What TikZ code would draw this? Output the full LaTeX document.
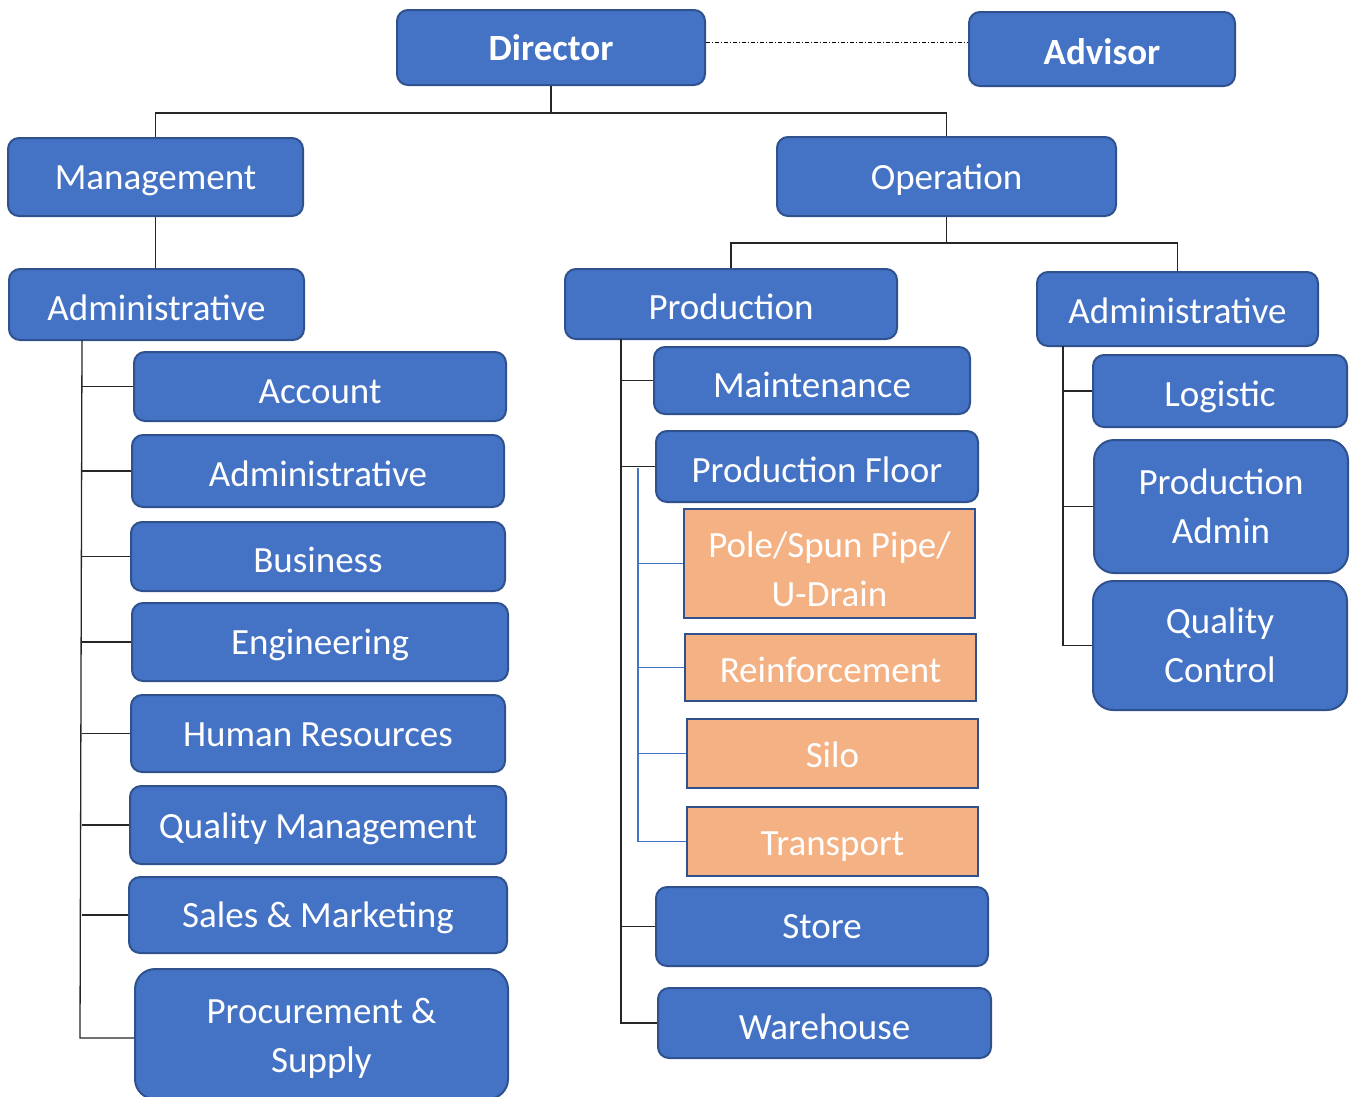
\documentclass[tikz,border=0pt]{standalone}
\usepackage{fontspec}
\setmainfont{Carlito}
\usetikzlibrary{calc}
\definecolor{boxblue}{HTML}{4472C4}
\definecolor{edgeblue}{HTML}{2F528F}
\definecolor{boxorange}{HTML}{F4B183}
\tikzset{
  bluebox/.style={draw=edgeblue, fill=boxblue, line width=2pt, rounded corners=11pt, inner sep=0pt,
    text=white, align=center, font=\fontsize{37}{49}\selectfont},
  bigradius/.style={rounded corners=20pt},
  orangebox/.style={draw=edgeblue, fill=boxorange, line width=2pt, inner sep=0pt,
    text=white, align=center, font=\fontsize{37}{49}\selectfont},
  tl/.style={text height=#1, text depth=0pt},
  conn/.style={draw=black!85, line width=1.3pt},
  bconn/.style={draw=boxblue, line width=1.2pt},
}
\begin{document}
\begin{tikzpicture}[x=1pt,y=-1pt]
\useasboundingbox (0,0) rectangle (1351,1096);
% top level
\node[bluebox, tl=25pt, minimum width=308pt, minimum height=75pt, font=\fontsize{37}{49}\selectfont\bfseries] (director) at (551,47.5) {Director};
\node[bluebox, tl=30pt, minimum width=266pt, minimum height=74pt, font=\fontsize{37}{49}\selectfont\bfseries] (advisor) at (1102,49) {Advisor};
\node[bluebox, tl=24pt, minimum width=295pt, minimum height=78pt] (mgmt) at (155.5,177) {Management};
\node[bluebox, tl=25pt, minimum width=339pt, minimum height=79pt] (oper) at (946.5,176.5) {Operation};
% management branch
\node[bluebox, tl=31pt, minimum width=295pt, minimum height=71pt] (adminL) at (156.5,304.5) {Administrative};
\node[bluebox, tl=33pt, minimum width=372pt, minimum height=69pt] (account) at (320,386.5) {Account};
\node[bluebox, tl=30pt, minimum width=372pt, minimum height=72pt] (admin2) at (318,471) {Administrative};
\node[bluebox, tl=31pt, minimum width=374pt, minimum height=69pt] (business) at (318,556.5) {Business};
\node[bluebox, tl=24pt, minimum width=376pt, minimum height=78pt] (engin) at (320,642) {Engineering};
\node[bluebox, tl=25pt, minimum width=374pt, minimum height=77pt] (hr) at (318,733.5) {Human Resources};
\node[bluebox, tl=26pt, minimum width=376pt, minimum height=78pt] (qm) at (318,825) {Quality Management};
\node[bluebox, tl=24pt, minimum width=378pt, minimum height=76pt] (sales) at (318,915) {Sales \& Marketing};
\node[bluebox, bigradius, minimum width=373pt, minimum height=130pt] (procure) at (321.5,1034) {\rule{0pt}{33pt}Procurement \&\\Supply};
% operation branch
\node[bluebox, tl=30pt, minimum width=332pt, minimum height=70pt] (prod) at (731,304) {Production};
\node[bluebox, tl=28pt, minimum width=281pt, minimum height=74pt] (adminR) at (1177.5,309) {Administrative};
\node[bluebox, tl=33pt, minimum width=316pt, minimum height=67pt] (maint) at (812,380.5) {Maintenance};
\node[bluebox, tl=31pt, minimum width=322pt, minimum height=71pt] (pfloor) at (817,466.5) {Production Floor};
\node[orangebox, minimum width=291pt, minimum height=109pt] (pole) at (829.5,563.5) {\rule{0pt}{38pt}Pole/Spun Pipe/\\U-Drain};
\node[orangebox, tl=29pt, minimum width=291pt, minimum height=67pt] (reinf) at (830.5,667.5) {Reinforcement};
\node[orangebox, tl=27pt, minimum width=291pt, minimum height=69pt] (silo) at (832.5,753.5) {Silo};
\node[orangebox, tl=27pt, minimum width=291pt, minimum height=69pt] (transport) at (832.5,841.5) {Transport};
\node[bluebox, tl=24pt, minimum width=332pt, minimum height=79pt] (store) at (822,926.5) {Store};
\node[bluebox, tl=32pt, minimum width=333pt, minimum height=70pt] (warehouse) at (824.5,1023) {Warehouse};
\node[bluebox, tl=30pt, minimum width=254pt, minimum height=72pt] (logistic) at (1220,391) {Logistic};
\node[bluebox, bigradius, minimum width=254pt, minimum height=133pt] (padmin) at (1221,506.5) {Production\\Admin};
\node[bluebox, bigradius, minimum width=254pt, minimum height=129pt] (qc) at (1220,645.5) {Quality\\Control};
% director/advisor link
\draw[black, line width=1pt, dash pattern=on 4pt off 2pt on 1pt off 2pt] (director.east |- 0,42) -- (advisor.west |- 0,42);
% director to management/operation
\draw[conn] (director.south) -- (director.south |- 0,113) -| (mgmt.north);
\draw[conn] (director.south |- 0,113) -| (oper.north);
\draw[conn] (mgmt.south) -- (mgmt.south |- adminL.north);
% operation to production/admin
\draw[conn] (oper.south) -- (oper.south |- 0,243) -| (prod.north);
\draw[conn] (oper.south |- 0,243) -| (adminR.north);
% left trunk
\coordinate (lt) at (82,340);
\coordinate (lend) at (80,1038);
\draw[conn] (lt) -- (lend) -- (lend -| procure.west);
\foreach \n in {account,admin2,business,engin,hr,qm,sales}{
  \draw[conn] (lt |- \n.west) -- (\n.west);
}
% production trunk
\coordinate (pt) at (621,339);
\draw[conn] (pt) -- (pt |- warehouse.west) -- (warehouse.west);
\foreach \n in {maint,pfloor,store}{
  \draw[conn] (pt |- \n.west) -- (\n.west);
}
% production floor blue trunk
\coordinate (bt) at (638,468);
\draw[bconn] (bt) -- (bt |- transport.west) -- (transport.west);
\foreach \n in {pole,reinf,silo}{
  \draw[bconn] (bt |- \n.west) -- (\n.west);
}
% right admin trunk
\coordinate (rt) at (1063,346);
\draw[conn] (rt) -- (rt |- qc.west) -- (qc.west);
\foreach \n in {logistic,padmin}{
  \draw[conn] (rt |- \n.west) -- (\n.west);
}
\end{tikzpicture}
\end{document}
